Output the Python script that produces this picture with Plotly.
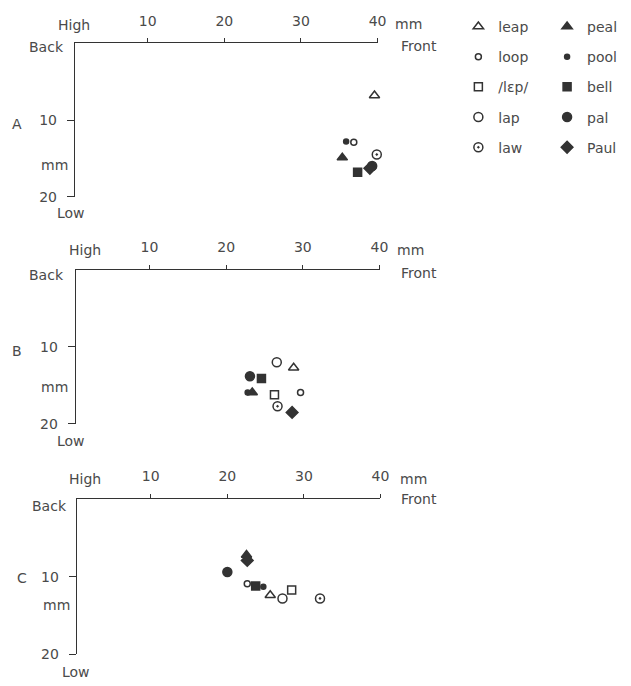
import plotly.graph_objects as go

W, H = 631, 686

words = ["leap", "loop", "/lɛp/", "lap", "law", "peal", "pool", "bell", "pal", "Paul"]
symbols = ["triangle-up-open", "circle-open", "square-open", "circle-open", "circle-open-dot",
           "triangle-up", "circle", "square", "circle", "diamond"]
sizes = [9, 6, 8, 9, 9, 9, 5, 8, 9, 9]

# Panel A (x = mm, y = mm)
A_x = [39.6, 36.9, 41.9, 40.5, 39.9, 35.4, 35.9, 37.4, 39.3, 39.0]
A_y = [6.8, 12.9, 13.8, 15.9, 14.5, 14.9, 12.8, 16.8, 16.0, 16.3]
# Panel B
B_x = [28.8, 29.7, 26.3, 26.6, 26.7, 23.4, 22.8, 24.6, 23.1, 28.6]
B_y = [12.7, 15.9, 16.2, 12.0, 17.7, 15.9, 15.9, 14.1, 13.8, 18.5]
# Panel C
C_x = [25.6, 22.6, 28.4, 27.2, 32.1, 22.5, 24.7, 23.7, 20.0, 22.6]
C_y = [12.4, 10.9, 11.7, 12.8, 12.8, 7.2, 11.3, 11.2, 9.4, 7.9]

x_ticks = [10, 20, 30, 40]
y_ticks = [10, 20]
panel_labels = ["A", "B", "C"]

# pixel geometry of each panel: (x_left_px, x_right_px, y_top_px, y_bottom_px, x_min)
panels_px = [(76, 383, 44, 199, 0.5), (77, 385, 273, 429, 0.4), (78, 386, 505, 662, 0.35)]
panel_data = [(A_x, A_y), (B_x, B_y), (C_x, C_y)]
# label pixel positions per panel (center x, center y)
labels_px = [
    dict(High=(75, 25), mmx=(414, 24), Front=(425, 47), Back=(47, 48), mmy=(55, 167), Low=(72, 216), P=(17, 125)),
    dict(High=(86, 253), mmx=(416, 253), Front=(425, 276), Back=(47, 278), mmy=(55, 392), Low=(72, 446), P=(17, 355)),
    dict(High=(86, 485), mmx=(419, 485), Front=(425, 505), Back=(50, 512), mmy=(57, 612), Low=(77, 680), P=(22, 585)),
]

INK = "#333333"
TXT = "#4a4a4a"
FONT = dict(family="DejaVu Sans", size=14, color=TXT)

fig = go.Figure()

def px2x(p):
    return p / W

def px2y(p):
    return 1 - p / H

for pi, ((xl, xr, yt, yb, xmin), (xs, ys)) in enumerate(zip(panels_px, panel_data)):
    n = pi + 1
    xa = "x" if n == 1 else f"x{n}"
    ya = "y" if n == 1 else f"y{n}"
    for wi, w in enumerate(words):
        fig.add_trace(go.Scatter(
            x=[xs[wi]], y=[ys[wi]], mode="markers", name=w,
            xaxis=xa, yaxis=ya, cliponaxis=False,
            legendgroup=w, showlegend=(pi == 0),
            legend="legend" if wi < 5 else "legend2",
            marker=dict(symbol=symbols[wi], size=sizes[wi], color=INK,
                        line=dict(color=INK, width=1.5)),
        ))
    xkey = "xaxis" if n == 1 else f"xaxis{n}"
    ykey = "yaxis" if n == 1 else f"yaxis{n}"
    fig.update_layout(**{
        xkey: dict(domain=[px2x(xl), px2x(xr)], range=[xmin, 40], side="top",
                   anchor=ya, showgrid=False, zeroline=False, showline=True,
                   linecolor=INK, linewidth=1.3, tickvals=x_ticks,
                   ticks="outside", ticklen=4, tickcolor=INK, tickwidth=1.2,
                   tickfont=FONT, ticklabelstandoff=7),
        ykey: dict(domain=[px2y(yb), px2y(yt)], range=[20, 0],
                   anchor=xa, showgrid=False, zeroline=False, showline=True,
                   linecolor=INK, linewidth=1.3, tickvals=y_ticks,
                   ticks="outside", ticklen=7, tickcolor=INK, tickwidth=1.2,
                   tickfont=FONT, ticklabelstandoff=7),
    })
    lp = labels_px[pi]
    ann = [
        ("High", lp["High"]), ("mm", lp["mmx"]), ("Front", lp["Front"]),
        ("Back", lp["Back"]), ("mm", lp["mmy"]), ("Low", lp["Low"]),
        (panel_labels[pi], lp["P"]),
    ]
    for text, (axp, ayp) in ann:
        fig.add_annotation(text=text, x=px2x(axp), y=px2y(ayp), xref="paper", yref="paper",
                           showarrow=False, font=FONT, xanchor="center", yanchor="middle")

legend_common = dict(font=FONT, traceorder="grouped", tracegroupgap=9,
                     bgcolor="rgba(0,0,0,0)", yanchor="top", xanchor="left",
                     itemwidth=30)
fig.update_layout(
    width=W, height=H, autosize=False,
    margin=dict(l=0, r=0, t=0, b=0),
    paper_bgcolor="white", plot_bgcolor="white",
    legend=dict(x=px2x(465), y=px2y(11), **legend_common),
    legend2=dict(x=px2x(555), y=px2y(11), **legend_common),
)

fig.write_html(
    "out.html",
    config={"displayModeBar": False},
    post_script=("document.documentElement.style.margin='0';"
                 "document.body.style.margin='0';document.body.style.padding='0';"
                 "document.documentElement.style.overflow='hidden';"
                 "document.body.style.overflow='hidden';"),
)
